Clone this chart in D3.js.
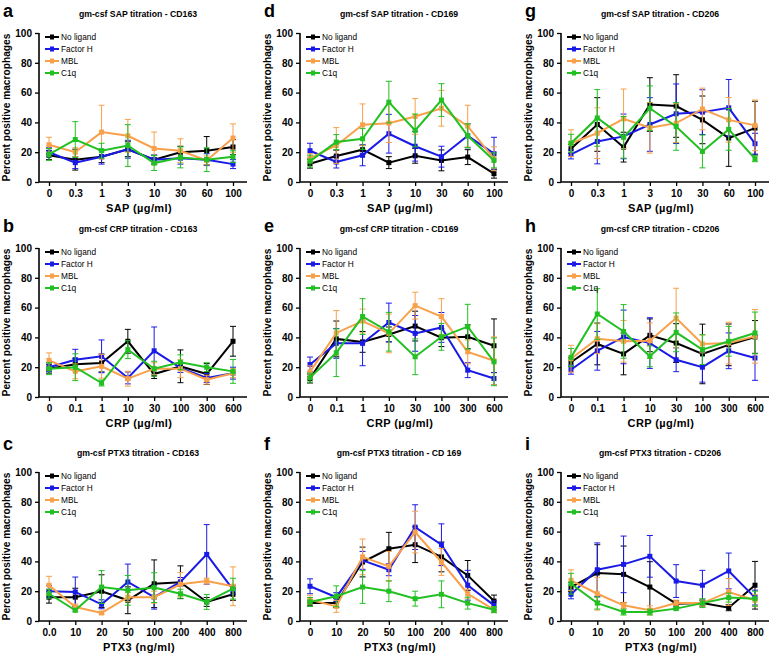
<!DOCTYPE html>
<html><head><meta charset="utf-8">
<script src="https://cdn.jsdelivr.net/npm/d3@7"></script>
<style>body{margin:0;background:#fff}svg{display:block}text{font-family:"Liberation Sans",Arial,sans-serif}</style>
</head><body>
<svg id="chart" width="778" height="653"></svg>
<script>
const ligands = ["No ligand","Factor H","MBL","C1q"];
const colors = ["#000000","#1a1ae6","#f9a04b","#22c022"];
const sapDoses = ["0","0.3","1","3","10","30","60","100"];
const crpDoses = ["0","0.1","1","10","30","100","300","600"];
const ptx3DosesC = ["0.0","10","20","50","100","200","400","800"];
const ptx3Doses = ["0","10","20","50","100","200","400","800"];
const yTicks = [0,20,40,60,80,100];

// means: [No ligand, Factor H, MBL, C1q]
const aMean = [[18,15,17,22,15,20,21,23.5],[20,13,17,22,15,16,15,12],[25,20,33.5,31,22.5,21,14.5,29.5],[18.5,28.5,21,24.5,12.7,16.5,15,17]];
const aErr  = [[3,7,4,5,3,4,9.5,5],[3,4,5,6,3,4,4,3],[5,3,18,11,11,8,3,9.5],[4,12,5,14,5,7,8,4]];
const dMean = [[12.3,17.4,21.7,13,17.6,14.5,16.7,5.6],[21,13.4,17.9,32.4,24,17,31,19],[16,24.5,38.4,39.5,44,49.5,37.5,15.6],[14,26.8,29,53.6,34.6,55,31,14.5]];
const dErr  = [[3,4,3,4,5,7,5,3],[5,4,7,13,10,7,8,11],[3,12,14,13,12,12,14,8],[4,5,7,14,11,11,8,5]];
const gMean = [[22.3,38.6,23.4,52,51,41.7,29.5,36.2],[18.5,27.2,30.6,38.6,45.8,46.9,49.8,25.7],[26,32.8,42.4,36.4,39.5,49,41.7,38],[26,43,30,49.5,37.3,20.5,35.3,15.6]];
const gErr  = [[3,18,10,18,21,16,19,18],[3,15,15,18,20,15,19,7],[9,17,20,17,13,14,15,17],[6,19,14,15,16,11,14,2]];
const bMean = [[19,22,22.8,37.4,15.4,20.6,15.4,37.4],[20,25,27.3,12.8,31,19.5,12.8,16],[24.6,17.2,20.6,12.3,19,19,11.6,16],[19,20,9.4,31.8,19,23.3,20,17.2]];
const bErr  = [[3,4,6,8,3,11,7,10],[3,7,11,4,16,3,3,4],[5,5,8,5,4,6,3,3],[4,9,2,6,5,5,3,8]];
const eMean = [[12.4,39,37,42,47.6,39.8,40.4,34.4],[21.8,36,36,50,42.7,46.7,18,12.4],[16.9,43,51,42.7,61.3,54,30.3,24.3],[13,29.7,54,43.8,27,40.4,47.2,23.6]];
const eErr  = [[3,12,7,5,10,6,8,18],[5,10,15,13,12,10,5,4],[4,15,8,13,9,12,8,16],[3,16,12,13,12,9,15,16]];
const hMean = [[23.3,35.6,28.9,41.4,36.2,28.9,35,40.3],[18.3,31,40.3,36.2,25,20,31,26.2],[25.7,39.1,37.4,37.8,53,35.6,36.2,40.7],[26.6,55.7,44,27.3,43.4,31.8,37.4,43]];
const hErr  = [[3,14,14,11,13,20,14,11],[3,13,18,17,8,10,12,15],[9,10,14,12,20,6,14,18],[6,17,18,7,13,10,10,14]];
const cMean = [[16,16,20,13.9,25,26,12.8,17.9],[19.9,19.5,11.2,26.2,16,26.2,44.7,21],[24,9.4,5.4,16,16,24.6,26.8,23.3],[18.3,7.2,22.8,20.6,22.4,18.3,12.8,21.7]];
const cErr  = [[4,6,11,9,16,11,3,4],[4,10,3,12,8,3,20,3],[6,2,1,3,4,8,2,13],[3,1,11,10,10,3,5,7]];
const fMean = [[12,12,39.6,48.5,51.2,43,30.6,13.4],[23.3,16,40.7,34.4,63,51.2,24,10.5],[14.3,9.8,43,36.7,59.7,39.6,18.3,7.6],[12.8,16.6,22.8,20,15,17.9,12,7.6]];
const fErr  = [[2,3,10,11,12,10,10,4],[5,3,6,4,15,14,10,3],[3,4,12,10,14,9,3,2],[3,7,11,7,5,9,4,2]];
const iMean = [[22.8,32.2,31.3,22.8,11.6,12,8.9,24],[17.9,34.4,38,43.4,26.8,24,33.6,15.7],[27.3,18.3,10.5,7.2,12,12,19.5,13.9],[25,12,6,6,8.3,12,15.7,15]];
const iErr  = [[3,19,19,17,2,2,2,16],[3,18,19,14,11,10,12,5],[7,11,2,3,2,2,9,4],[7,4,2,2,1,3,3,5]];

const panels = [
  {letter:"a", title:"gm-csf SAP titration - CD163", xlab:"SAP (µg/ml)", doses:sapDoses, mean:aMean, err:aErr, col:0, row:0},
  {letter:"b", title:"gm-csf CRP titration - CD163", xlab:"CRP (µg/ml)", doses:crpDoses, mean:bMean, err:bErr, col:0, row:1},
  {letter:"c", title:"gm-csf PTX3 titration - CD163", xlab:"PTX3 (ng/ml)", doses:ptx3DosesC, mean:cMean, err:cErr, col:0, row:2},
  {letter:"d", title:"gm-csf SAP titration - CD169", xlab:"SAP (µg/ml)", doses:sapDoses, mean:dMean, err:dErr, col:1, row:0},
  {letter:"e", title:"gm-csf CRP titration - CD169", xlab:"CRP (µg/ml)", doses:crpDoses, mean:eMean, err:eErr, col:1, row:1},
  {letter:"f", title:"gm-csf PTX3 titration - CD 169", xlab:"PTX3 (ng/ml)", doses:ptx3Doses, mean:fMean, err:fErr, col:1, row:2},
  {letter:"g", title:"gm-csf SAP titration - CD206", xlab:"SAP (µg/ml)", doses:sapDoses, mean:gMean, err:gErr, col:2, row:0},
  {letter:"h", title:"gm-csf CRP titration - CD206", xlab:"CRP (µg/ml)", doses:crpDoses, mean:hMean, err:hErr, col:2, row:1},
  {letter:"i", title:"gm-csf PTX3 titration - CD206", xlab:"PTX3 (ng/ml)", doses:ptx3Doses, mean:iMean, err:iErr, col:2, row:2}
];

const colX = [39, 300, 561];
const rowTop = [33, 248, 472];
const letterY = [17, 232, 450];
const plotH = 149, axisW = 208;
const svg = d3.select("#chart");

panels.forEach(p => {
  const x0 = colX[p.col], y0 = rowTop[p.row];
  const g = svg.append("g").attr("transform", `translate(${x0},${y0})`);
  const x = d3.scalePoint().domain(p.doses).range([10, 194]);
  const y = d3.scaleLinear().domain([0,100]).range([plotH, 0]);

  svg.append("text").attr("x", x0 - 36).attr("y", letterY[p.row])
    .attr("font-size", 18).attr("font-weight", "bold").text(p.letter);
  g.append("text").attr("x", 99).attr("y", -16).attr("text-anchor","middle")
    .attr("font-size", 8.7).attr("font-weight","bold").text(p.title);

  // y axis
  const ya = g.append("g").call(d3.axisLeft(y).tickValues(yTicks).tickSize(4).tickPadding(3));
  ya.select(".domain").attr("stroke-width", 1.6).attr("d", `M0,${plotH}V0`);
  ya.selectAll(".tick line").attr("stroke-width", 1.3);
  ya.selectAll("text").attr("font-size", 10).attr("font-weight","bold").attr("font-family","Liberation Sans, Arial, sans-serif");

  // x axis
  const xa = g.append("g").attr("transform", `translate(0,${plotH})`)
    .call(d3.axisBottom(x).tickSize(4).tickPadding(4));
  xa.select(".domain").attr("stroke-width", 1.6).attr("d", `M0,0H${axisW}`);
  xa.selectAll(".tick line").attr("stroke-width", 1.3);
  xa.selectAll("text").attr("font-size", 10).attr("font-weight","bold").attr("font-family","Liberation Sans, Arial, sans-serif");

  g.append("text").attr("x", 100).attr("y", plotH + 30).attr("text-anchor","middle")
    .attr("font-size", 11).attr("font-weight","bold").attr("letter-spacing", 0.4).text(p.xlab);
  g.append("text").attr("transform", `translate(-29,${plotH/2}) rotate(-90)`).attr("text-anchor","middle")
    .attr("font-size", 10.2).attr("font-weight","bold").text("Percent positive macrophages");

  // series
  const line = d3.line().x((d,i) => x(p.doses[i])).y(d => y(d));
  p.mean.forEach((vals, s) => {
    const sg = g.append("g");
    const c = colors[s];
    vals.forEach((v, i) => {
      const e = p.err[s][i];
      const cx = x(p.doses[i]);
      sg.append("line").attr("x1", cx).attr("x2", cx).attr("y1", y(v - e)).attr("y2", y(v + e))
        .attr("stroke", c).attr("stroke-width", 1);
      [v - e, v + e].forEach(t => sg.append("line").attr("x1", cx - 3).attr("x2", cx + 3)
        .attr("y1", y(t)).attr("y2", y(t)).attr("stroke", c).attr("stroke-width", 1));
    });
    sg.append("path").attr("d", line(vals)).attr("fill","none").attr("stroke", c).attr("stroke-width", 2);
    sg.selectAll("rect").data(vals).join("rect")
      .attr("x", (d,i) => x(p.doses[i]) - 2.5).attr("y", d => y(d) - 2.5)
      .attr("width", 5).attr("height", 5).attr("fill", c);
  });

  // legend
  const lg = g.append("g").attr("transform", "translate(6,4)");
  ligands.forEach((name, s) => {
    const ly = s * 12;
    lg.append("line").attr("x1", 0).attr("x2", 14).attr("y1", ly).attr("y2", ly)
      .attr("stroke", colors[s]).attr("stroke-width", 2);
    lg.append("rect").attr("x", 5).attr("y", ly - 2.5).attr("width", 4).attr("height", 5).attr("fill", colors[s]);
    lg.append("text").attr("x", 16).attr("y", ly + 3).attr("font-size", 8.3).text(name);
  });
});
</script>
</body></html>
